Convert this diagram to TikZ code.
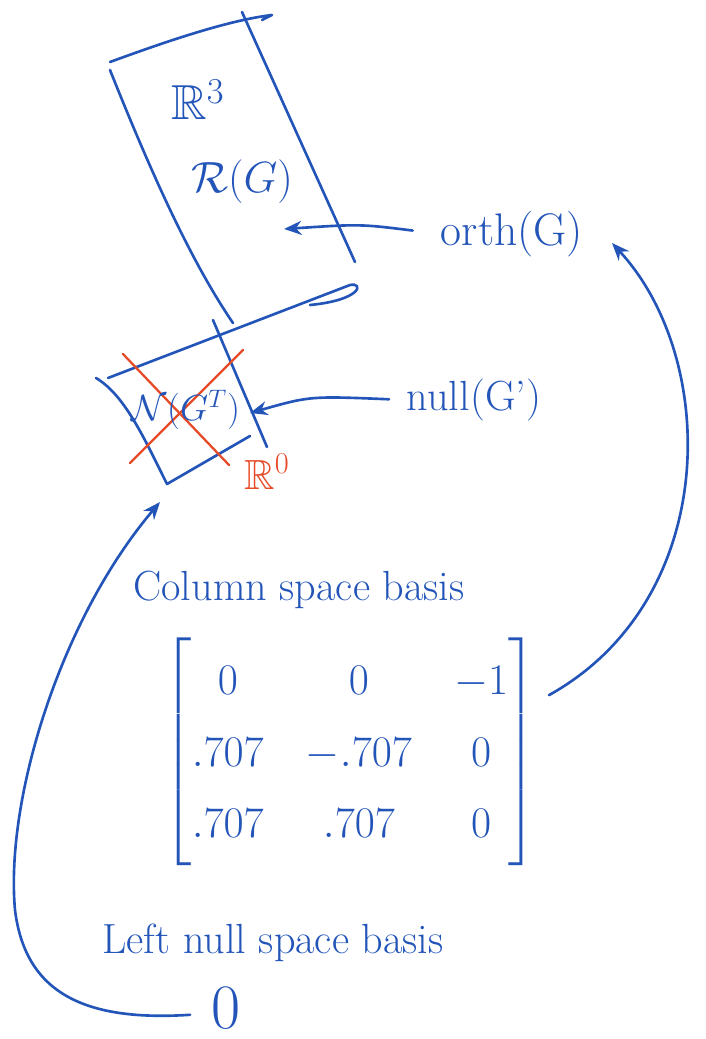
\documentclass[tikz,border=0pt]{standalone}
\usepackage{amsmath,amssymb}
\usetikzlibrary{arrows.meta}
\definecolor{inkblue}{RGB}{35,85,185}
\definecolor{inkred}{RGB}{230,75,40}
\tikzset{
  ink/.style={draw=inkblue, line width=1.5pt, line cap=round, line join=round},
  redink/.style={draw=inkred, line width=1.3pt, line cap=round},
  word/.style={text=inkblue, font=\fontsize{24}{29}\selectfont, inner sep=0pt},
  pointer/.style={ink, -{Stealth[length=10pt,width=8pt]}},
}

\begin{document}
\begin{tikzpicture}[x=0.02cm, y=-0.02cm]
    \useasboundingbox (0,0) rectangle (706,1039);

    % range box
    \draw[ink] (110,62) .. controls (170,40) and (230,20) .. (272,15) -- (262,20);
    \draw[ink] (110,70) .. controls (150,170) and (190,260) .. (233,323);
    \draw[ink] (242,12) -- (355,262);
    \draw[ink] (108,378) -- (350,285) .. controls (364,282) and (362,300) .. (310,305);

    % null box
    \draw[ink] (96,378) .. controls (125,395) and (145,440) .. (167,484) -- (250,436);
    \draw[ink] (213,320) -- (267,447);

    \draw[redink] (123,354) -- (229,465);
    \draw[redink] (243,350) -- (130,463);

    \node[word, font=\fontsize{28}{32}\selectfont] (rthree) at (198,100) {$\mathbb{R}^3$};
    \node[word, font=\fontsize{28}{32}\selectfont] (range) at (242,182) {$\mathcal{R}(G)$};
    \node[word, font=\fontsize{26}{30}\selectfont] (orth) at (512,234) {orth(G)};
    \node[word, font=\fontsize{22}{26}\selectfont] (nullspace) at (186,410) {$\mathcal{N}(G^T)$};
    \node[word, text=inkred] (rzero) at (267,472) {$\mathbb{R}^0$};
    \node[word] (nullcmd) at (474,400) {null(G')};

    \node[word] (coltitle) at (299,590) {Column space basis};
    \node[word] (colbasis) at (350,752) {\renewcommand{\arraystretch}{1.4}\setlength{\arraycolsep}{12pt}%
      $\begin{bmatrix} 0 & 0 & -1\\ .707 & -.707 & 0\\ .707 & .707 & 0 \end{bmatrix}$};
    \node[word] (lefttitle) at (273,943) {Left null space basis};
    \node[word, font=\fontsize{36}{40}\selectfont] (leftbasis) at (226,1008) {0};

    \coordinate (rangetip) at (284,229);
    \coordinate (nulltip) at (250,413);
    \coordinate (orthfoot) at (612,243);
    \coordinate (nullfoot) at (160,502);

    \draw[pointer, shorten <=16pt] (orth.west) .. controls (360,224) .. (rangetip);
    \draw[pointer, shorten <=10pt] (nullcmd.west) .. controls (310,396) .. (nulltip);
    \draw[pointer, shorten <=8pt] (colbasis.15) .. controls (720,600) and (720,360) .. (orthfoot);
    \draw[pointer, shorten <=12pt] (leftbasis.200) .. controls (80,1022) and (25,990) .. (15,910)
        .. controls (5,800) and (60,620) .. (nullfoot);
\end{tikzpicture}
\end{document}
